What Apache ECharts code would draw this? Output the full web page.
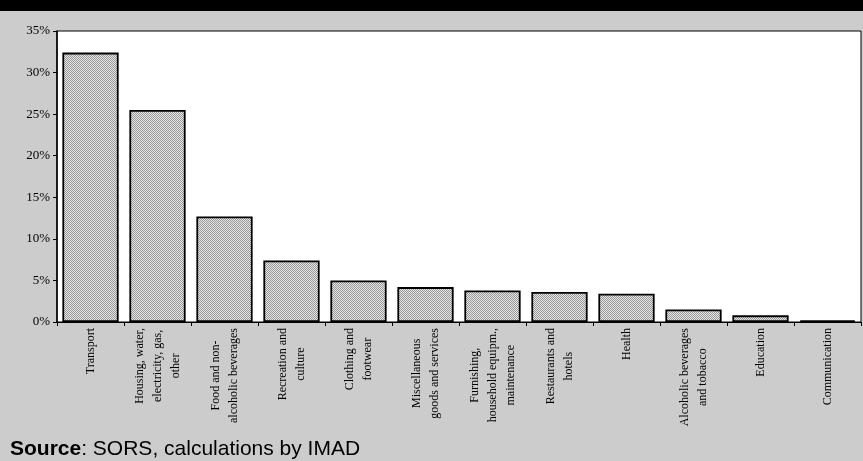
<!DOCTYPE html>
<html>
<head>
<meta charset="utf-8">
<script src="https://cdn.jsdelivr.net/npm/echarts@6/dist/echarts.min.js"></script>
<style>
  html, body { margin: 0; padding: 0; background: #cccccc; }
  #chart { width: 863px; height: 461px; }
</style>
</head>
<body>
<div id="chart"></div>
<script>
// categories (line breaks as in the original labels)
var categories = [
  'Transport',
  'Housing, water,\nelectricity, gas,\nother',
  'Food and non-\nalcoholic beverages',
  'Recreation and\nculture',
  'Clothing and\nfootwear',
  'Miscellaneous\ngoods and services',
  'Furnishing,\nhousehold equipm.,\nmaintenance',
  'Restaurants and\nhotels',
  'Health',
  'Alcoholic beverages\nand tobacco',
  'Education',
  'Communication'
];
// share, in %
var shares = [32.4, 25.5, 12.7, 7.4, 5.0, 4.2, 3.8, 3.6, 3.4, 1.5, 0.8, 0.2];

// small checker pattern for the bar fill
var pat = document.createElement('canvas');
pat.width = 2;
pat.height = 2;
var ctx = pat.getContext('2d');
ctx.fillStyle = '#e4e4e4';
ctx.fillRect(0, 0, 2, 2);
ctx.fillStyle = '#9a9a9a';
ctx.fillRect(0, 0, 1, 1);
ctx.fillRect(1, 1, 1, 1);

var chart = echarts.init(document.getElementById('chart'));
var serif = '"Liberation Serif", "DejaVu Serif", serif';
var sans = '"Liberation Sans", Arial, sans-serif';

var option = {
  backgroundColor: '#cccccc',
  animation: false,
  grid: {
    left: 57,
    top: 31,
    right: 2,
    bottom: 139,
    show: true,
    backgroundColor: '#ffffff',
    borderColor: '#000',
    borderWidth: 1
  },
  graphic: [
    {
      type: 'rect',
      left: 0,
      top: 0,
      shape: { width: 863, height: 11 },
      style: { fill: '#000' }
    },
    {
      type: 'text',
      left: 10,
      top: 439,
      style: {
        text: '{b|Source}{n|: SORS, calculations by IMAD}',
        fill: '#000',
        rich: {
          b: { fontWeight: 'bold', fontSize: 21, fontFamily: sans, color: '#000' },
          n: { fontSize: 21, fontFamily: sans, color: '#000' }
        }
      }
    }
  ],
  xAxis: {
    type: 'category',
    data: categories,
    axisLine: { lineStyle: { color: '#000', width: 1 } },
    axisTick: { show: true, length: 4, lineStyle: { color: '#000' } },
    axisLabel: {
      interval: 0,
      rotate: 90,
      margin: 6,
      color: '#000',
      fontFamily: serif,
      fontSize: 12,
      lineHeight: 18,
      formatter: function (v) {
        return v.split('\n').map(function (l) { return '{c|' + l + '}'; }).join('\n');
      },
      rich: {
        c: { align: 'center', fontFamily: serif, fontSize: 12, lineHeight: 18, color: '#000' }
      }
    }
  },
  yAxis: {
    type: 'value',
    min: 0,
    max: 35,
    interval: 5,
    axisLine: { show: true, lineStyle: { color: '#000', width: 1.5 } },
    axisTick: { show: true, length: 4, lineStyle: { color: '#000' } },
    splitLine: { show: false },
    axisLabel: {
      margin: 7,
      color: '#000',
      fontFamily: serif,
      fontSize: 13,
      formatter: '{value}%'
    }
  },
  series: [{
    type: 'bar',
    data: shares,
    barCategoryGap: '16%',
    itemStyle: {
      color: { image: pat, repeat: 'repeat' },
      borderColor: '#000',
      borderWidth: 1.8
    }
  }]
};

chart.setOption(option);
</script>
</body>
</html>
